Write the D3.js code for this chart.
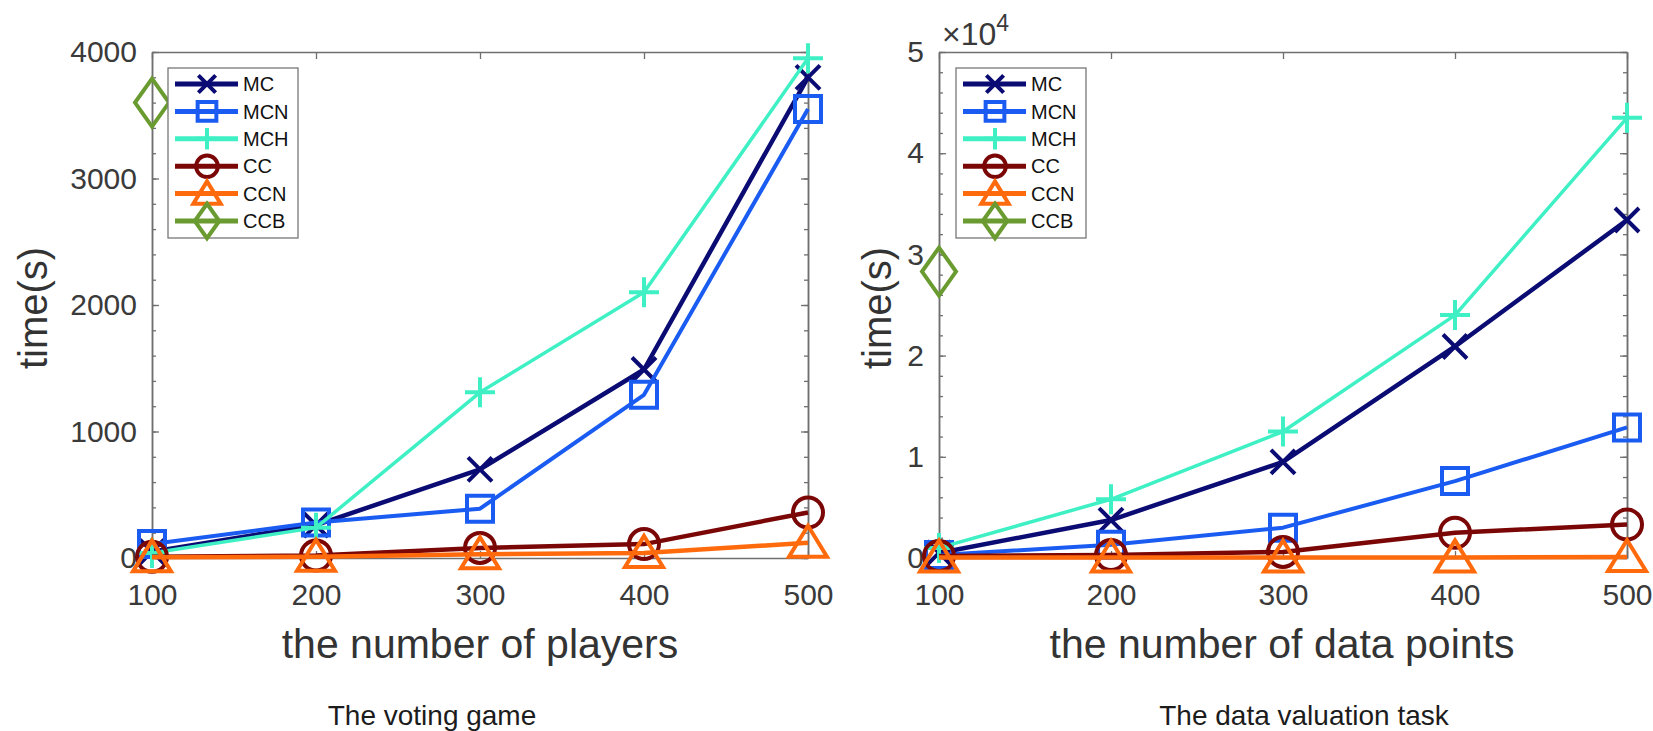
<!DOCTYPE html>
<html>
<head>
<meta charset="utf-8">
<script src="https://d3js.org/d3.v7.min.js"></script>
<style>
  body { margin: 0; background: #fff; }
  svg { display: block; font-family: "Liberation Sans", Arial, Helvetica, sans-serif; }
</style>
</head>
<body>
<svg id="chart" width="1653" height="731"></svg>
<script>
// x values shared by both panels
const nValues = [100, 200, 300, 400, 500];
const seriesNames = ["MC", "MCN", "MCH", "CC", "CCN", "CCB"];

// The voting game, time in seconds
const votingMC  = [50, 260, 700, 1490, 3800];
const votingMCN = [110, 280, 390, 1290, 3550];
const votingMCH = [40, 240, 1310, 2100, 3950];
const votingCC  = [10, 20, 80, 110, 360];
const votingCCN = [5, 10, 30, 40, 120];
const votingCCB = [3600]; // only n = 100

// The data valuation task, time in seconds
const valuationMC  = [500, 3750, 9500, 20900, 33400];
const valuationMCN = [300, 1300, 3000, 7600, 12900];
const valuationMCH = [1000, 5800, 12500, 24000, 43500];
const valuationCC  = [200, 300, 600, 2500, 3300];
const valuationCCN = [50, 50, 50, 60, 100];
const valuationCCB = [28300]; // only n = 100

const votingYTicks = [0, 1000, 2000, 3000, 4000];
const valuationYTicks = [0, 10000, 20000, 30000, 40000, 50000];

const seriesStyle = {
    MC:  { color: "#0b0b74", shape: "x",        width: 4.5 },
    MCN: { color: "#1a5cf2", shape: "square",   width: 4 },
    MCH: { color: "#3ff0c4", shape: "plus",     width: 3.5 },
    CC:  { color: "#7a0606", shape: "circle",   width: 4.5 },
    CCN: { color: "#ff6a0c", shape: "triangle", width: 4.5 },
    CCB: { color: "#6a9b30", shape: "diamond",  width: 4.5 }
};

const panels = [
    {
        series: { MC: votingMC, MCN: votingMCN, MCH: votingMCH, CC: votingCC, CCN: votingCCN, CCB: votingCCB },
        yTicks: votingYTicks, yMinorStep: 200, yFormat: d => d,
        left: 152, right: 808, top: 52, bottom: 558,
        xLabel: "the number of players", xLabelX: 480,
        yLabelX: 47,
        caption: "The voting game", captionX: 432,
        legend: { x: 168, y: 68, w: 130, h: 170 },
        exponent: false
    },
    {
        series: { MC: valuationMC, MCN: valuationMCN, MCH: valuationMCH, CC: valuationCC, CCN: valuationCCN, CCB: valuationCCB },
        yTicks: valuationYTicks, yMinorStep: 2000, yFormat: d => d / 1e4,
        left: 939, right: 1627, top: 52, bottom: 558,
        xLabel: "the number of data points", xLabelX: 1282,
        yLabelX: 891,
        caption: "The data valuation task", captionX: 1304,
        legend: { x: 956, y: 68, w: 130, h: 170 },
        exponent: true
    }
];

// marker outlines, k scales them (legend uses smaller ones)
function markerPath(shape, k) {
    let h;
    switch (shape) {
        case "x":
            h = 12 * k;
            return `M${-h},${-h}L${h},${h}M${-h},${h}L${h},${-h}`;
        case "plus":
            h = 15 * k;
            return `M${-h},0L${h},0M0,${-h}L0,${h}`;
        case "square":
            h = 13 * k;
            return `M${-h},${-h}H${h}V${h}H${-h}Z`;
        case "circle":
            h = 15 * k;
            return `M${h},0A${h},${h} 0 1 1 ${-h},0A${h},${h} 0 1 1 ${h},0Z`;
        case "triangle":
            return `M0,${-17 * k}L${19 * k},${14 * k}L${-19 * k},${14 * k}Z`;
        case "diamond":
            return `M0,${-24 * k}L${17 * k},0L0,${24 * k}L${-17 * k},0Z`;
    }
    return "";
}

const svg = d3.select("#chart");
const axisColor = "#6f6f6f";

function styleAxis(g) {
    g.attr("font-size", 30).attr("font-family", null);
    g.selectAll("path.domain").attr("stroke", axisColor).attr("stroke-width", 1.5);
    g.selectAll(".tick line").attr("stroke", axisColor).attr("stroke-width", 1.3);
    g.selectAll(".tick text").attr("fill", "#3a3a3a");
}

function drawPanel(p) {
    const x = d3.scaleLinear().domain([100, 500]).range([p.left, p.right]);
    const yMax = p.yTicks[p.yTicks.length - 1];
    const y = d3.scaleLinear().domain([0, yMax]).range([p.bottom, p.top]);
    const minors = d3.range(0, yMax + 1, p.yMinorStep);

    const g = svg.append("g");

    // box + ticks (all pointing inward)
    g.append("g").attr("transform", `translate(0,${p.bottom})`)
        .call(d3.axisBottom(x).tickValues(nValues).tickSize(-7).tickSizeOuter(0).tickPadding(26))
        .call(styleAxis);
    g.append("g").attr("transform", `translate(0,${p.top})`)
        .call(d3.axisTop(x).tickValues(nValues).tickSize(-7).tickSizeOuter(0).tickFormat(""))
        .call(styleAxis);
    g.append("g").attr("transform", `translate(${p.left},0)`)
        .call(d3.axisLeft(y).tickValues(p.yTicks).tickSize(-7).tickSizeOuter(0).tickPadding(15).tickFormat(p.yFormat))
        .call(styleAxis);
    g.append("g").attr("transform", `translate(${p.left},0)`)
        .call(d3.axisLeft(y).tickValues(minors).tickSize(-4).tickSizeOuter(0).tickFormat(""))
        .call(styleAxis);
    g.append("g").attr("transform", `translate(${p.right},0)`)
        .call(d3.axisRight(y).tickValues(p.yTicks).tickSize(-7).tickSizeOuter(0).tickFormat(""))
        .call(styleAxis);
    g.append("g").attr("transform", `translate(${p.right},0)`)
        .call(d3.axisRight(y).tickValues(minors).tickSize(-4).tickSizeOuter(0).tickFormat(""))
        .call(styleAxis);

    if (p.exponent) {
        const t = g.append("text").attr("x", p.left + 3).attr("y", 45)
            .attr("fill", "#3a3a3a").attr("font-size", 32);
        t.append("tspan").text("\u00d710");
        t.append("tspan").attr("font-size", 23).attr("dy", -14).text("4");
    }

    // series
    const line = d3.line().x((d, i) => x(nValues[i])).y(d => y(d));
    seriesNames.forEach(name => {
        const vals = p.series[name];
        const st = seriesStyle[name];
        const sg = g.append("g");
        if (vals.length > 1) {
            sg.append("path").datum(vals)
                .attr("d", line)
                .attr("fill", "none")
                .attr("stroke", st.color)
                .attr("stroke-width", st.width)
                .attr("stroke-linejoin", "round");
        }
        sg.selectAll("path.marker").data(vals).enter().append("path")
            .attr("class", "marker")
            .attr("transform", (d, i) => `translate(${x(nValues[i])},${y(d)})`)
            .attr("d", markerPath(st.shape, 1))
            .attr("fill", "none")
            .attr("stroke", st.color)
            .attr("stroke-width", 4);
    });

    // legend
    const L = p.legend;
    const lg = g.append("g").attr("transform", `translate(${L.x},${L.y})`);
    lg.append("rect").attr("width", L.w).attr("height", L.h)
        .attr("fill", "#fff").attr("stroke", "#777").attr("stroke-width", 1.3);
    seriesNames.forEach((name, i) => {
        const st = seriesStyle[name];
        const ly = 16 + i * 27.4;
        lg.append("line").attr("x1", 7).attr("x2", 70).attr("y1", ly).attr("y2", ly)
            .attr("stroke", st.color).attr("stroke-width", 5);
        lg.append("path").attr("transform", `translate(39,${ly})`)
            .attr("d", markerPath(st.shape, 0.72))
            .attr("fill", "none").attr("stroke", st.color).attr("stroke-width", 4);
        lg.append("text").attr("x", 75).attr("y", ly).attr("dy", "0.36em")
            .attr("font-size", 20).attr("fill", "#111").text(name);
    });

    // axis titles and caption
    g.append("text").attr("x", p.xLabelX).attr("y", 658)
        .attr("text-anchor", "middle").attr("font-size", 41).attr("fill", "#333")
        .text(p.xLabel);
    g.append("text")
        .attr("transform", `translate(${p.yLabelX},${(p.top + p.bottom) / 2 + 3}) rotate(-90)`)
        .attr("text-anchor", "middle").attr("font-size", 40).attr("fill", "#333")
        .text("time(s)");
    g.append("text").attr("x", p.captionX).attr("y", 725)
        .attr("text-anchor", "middle").attr("font-size", 28).attr("fill", "#1c1c1c")
        .text(p.caption);
}

panels.forEach(drawPanel);
</script>
</body>
</html>
